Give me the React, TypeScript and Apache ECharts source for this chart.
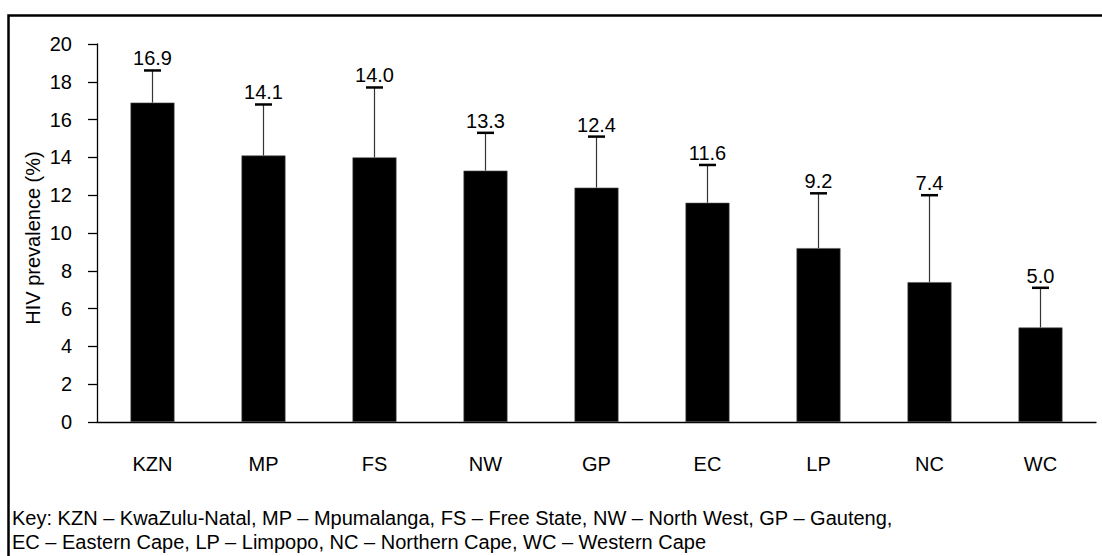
import React, { useEffect, useRef } from "react";
import * as echarts from "echarts";

const categories = ["KZN", "MP", "FS", "NW", "GP", "EC", "LP", "NC", "WC"];
const prevalence = [16.9, 14.1, 14.0, 13.3, 12.4, 11.6, 9.2, 7.4, 5.0];
const upperCI = [18.6, 16.8, 17.7, 15.3, 15.1, 13.6, 12.1, 12.0, 7.1];
const yAxisName = "HIV prevalence (%)";
const keyLines = [
  "Key: KZN – KwaZulu-Natal, MP – Mpumalanga, FS – Free State, NW – North West, GP – Gauteng,",
  "EC – Eastern Cape, LP – Limpopo, NC – Northern Cape, WC – Western Cape",
];

const FONT = '"Liberation Sans", Arial, Helvetica, sans-serif';

export default function App() {
  const ref = useRef<HTMLDivElement>(null);
  useEffect(() => {
    document.body.style.margin = "0";
    const chart = echarts.init(ref.current!, null, { renderer: "svg" });
    const errData = categories.map((_, i) => [i, upperCI[i], prevalence[i]]);
    chart.setOption({
      animation: false,
      backgroundColor: "#fff",
      grid: { left: 97, right: 6, top: 44, bottom: 134 },
      xAxis: {
        type: "category",
        data: categories,
        axisLine: { lineStyle: { color: "#000", width: 1.3 } },
        axisTick: { alignWithLabel: false, length: 10, lineStyle: { color: "#000", width: 1.3 } },
        axisLabel: { color: "#000", fontSize: 20, fontFamily: FONT, margin: 32 },
      },
      yAxis: {
        type: "value",
        min: 0,
        max: 20,
        interval: 2,
        splitLine: { show: false },
        axisLine: { show: true, lineStyle: { color: "#000", width: 1.3 } },
        axisTick: { show: true, length: 9, lineStyle: { color: "#000", width: 1.3 } },
        axisLabel: { color: "#000", fontSize: 20, fontFamily: FONT, margin: 25 },
      },
      graphic: [
        {
          type: "rect",
          shape: { x: 8.5, y: 15.5, width: 1300, height: 1000 },
          style: { fill: "none", stroke: "#000", lineWidth: 2.5 },
          silent: true,
        },
        {
          type: "text",
          x: 33,
          y: 238,
          rotation: Math.PI / 2,
          style: {
            text: yAxisName,
            font: `20px ${FONT}`,
            fill: "#000",
            align: "center",
            verticalAlign: "middle",
          },
        },
        {
          type: "text",
          x: 12,
          y: 518,
          style: { text: keyLines[0], font: `20px ${FONT}`, fill: "#000", align: "left", verticalAlign: "middle" },
        },
        {
          type: "text",
          x: 12,
          y: 542,
          style: { text: keyLines[1], font: `20px ${FONT}`, fill: "#000", align: "left", verticalAlign: "middle" },
        },
      ],
      series: [
        {
          type: "bar",
          data: prevalence,
          barWidth: 44,
          itemStyle: { color: "#000", borderColor: "#555", borderWidth: 0.6 },
        },
        {
          type: "custom",
          data: errData,
          renderItem: (params: any, api: any) => {
            const x = api.value(0);
            const hi = api.value(1);
            const v = api.value(2);
            const base = api.coord([x, v]);
            const top = api.coord([x, hi]);
            return {
              type: "group",
              children: [
                {
                  type: "line",
                  shape: { x1: base[0], y1: base[1], x2: top[0], y2: top[1] },
                  style: { stroke: "#333", lineWidth: 1.2 },
                },
                {
                  type: "line",
                  shape: { x1: top[0] - 8.5, y1: top[1], x2: top[0] + 8.5, y2: top[1] },
                  style: { stroke: "#000", lineWidth: 2.5 },
                },
                {
                  type: "text",
                  x: top[0],
                  y: top[1] - 2,
                  style: {
                    text: Number(v).toFixed(1),
                    font: `20px ${FONT}`,
                    fill: "#000",
                    align: "center",
                    verticalAlign: "bottom",
                  },
                },
              ],
            };
          },
        },
      ],
    });
    return () => chart.dispose();
  }, []);
  return <div ref={ref} style={{ width: 1102, height: 556 }} />;
}
